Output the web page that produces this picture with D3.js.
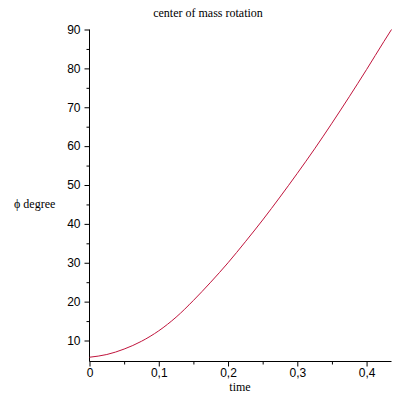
<!DOCTYPE html>
<html>
<head>
<meta charset="utf-8">
<script src="https://cdn.jsdelivr.net/npm/d3@7"></script>
<style>
html,body{margin:0;padding:0;background:#fff;}
svg{display:block;}
</style>
</head>
<body>
<svg id="chart" width="400" height="400"></svg>
<script>
const title = "center of mass rotation";
const xLabel = "time";
const yLabel = "\u03D5 degree";

const timeValues = [0, 0.025, 0.05, 0.075, 0.1, 0.125, 0.15, 0.175, 0.2, 0.225, 0.25, 0.275, 0.3, 0.325, 0.35, 0.375, 0.4, 0.425, 0.436];
const phiValues  = [5.7, 6.4, 7.8, 9.8, 12.5, 16.0, 20.3, 25.0, 30.0, 35.4, 41.0, 46.9, 53.0, 59.3, 65.9, 72.7, 79.7, 86.9, 90];

const xMajorTicks = [0, 0.1, 0.2, 0.3, 0.4];
const xMinorTicks = [0.05, 0.15, 0.25, 0.35];
const yMajorTicks = [10, 20, 30, 40, 50, 60, 70, 80, 90];
const yMinorTicks = [15, 25, 35, 45, 55, 65, 75, 85];

const xDomain = [0, 0.436];
const yDomain = [4.6, 90];

const svg = d3.select("#chart");
svg.append("rect").attr("width", 400).attr("height", 400).attr("fill", "#fff");

const x = d3.scaleLinear().domain(xDomain).range([89.5, 391.5]);
const y = d3.scaleLinear().domain(yDomain).range([361.5, 29.5]);

const tickFont = "'Liberation Sans', Arial, sans-serif";
const serif = "'Liberation Serif', 'Times New Roman', serif";

// x axis
const xAxis = d3.axisBottom(x).tickValues(xMajorTicks).tickSize(5).tickPadding(2)
  .tickFormat(d => d3.format("")(d).replace(".", ","));
const gx = svg.append("g").attr("transform", `translate(0,${y(yDomain[0])})`).call(xAxis);
gx.select(".domain").attr("d", `M${x(xDomain[0])},0H${x(xDomain[1])}`).attr("stroke", "#000");
gx.selectAll(".tick line").attr("stroke", "#000");
gx.selectAll(".tick text").attr("font-family", tickFont).attr("font-size", 12).attr("fill", "#000");
const gxm = svg.append("g").attr("transform", `translate(0,${y(yDomain[0])})`)
  .call(d3.axisBottom(x).tickValues(xMinorTicks).tickSize(3).tickFormat(""));
gxm.select(".domain").remove();
gxm.selectAll(".tick line").attr("stroke", "#000");

// y axis
const yAxis = d3.axisLeft(y).tickValues(yMajorTicks).tickSize(5).tickPadding(4)
  .tickFormat(d3.format("d"));
const gy = svg.append("g").attr("transform", `translate(${x(xDomain[0])},0)`).call(yAxis);
gy.select(".domain").attr("d", `M0,${y(yDomain[0])}V${y(yDomain[1])}`).attr("stroke", "#000");
gy.selectAll(".tick line").attr("stroke", "#000");
gy.selectAll(".tick text").attr("font-family", tickFont).attr("font-size", 12).attr("fill", "#000");
const gym = svg.append("g").attr("transform", `translate(${x(xDomain[0])},0)`)
  .call(d3.axisLeft(y).tickValues(yMinorTicks).tickSize(3).tickFormat(""));
gym.select(".domain").remove();
gym.selectAll(".tick line").attr("stroke", "#000");

// curve
const data = timeValues.map((t, i) => ({t, p: phiValues[i]}));
svg.append("path")
  .datum(data)
  .attr("fill", "none")
  .attr("stroke", "#c0143c")
  .attr("stroke-width", 1)
  .attr("d", d3.line().x(d => x(d.t)).y(d => y(d.p)).curve(d3.curveMonotoneX));

// labels
svg.append("text").attr("x", 208).attr("y", 17).attr("text-anchor", "middle")
  .attr("font-family", serif).attr("font-size", 12).attr("fill", "#000").text(title);
svg.append("text").attr("x", 240).attr("y", 391).attr("text-anchor", "middle")
  .attr("font-family", serif).attr("font-size", 12).attr("fill", "#000").text(xLabel);
svg.append("text").attr("x", 14).attr("y", 208).attr("text-anchor", "start")
  .attr("font-family", serif).attr("font-size", 12).attr("fill", "#000").text(yLabel);
</script>
</body>
</html>
